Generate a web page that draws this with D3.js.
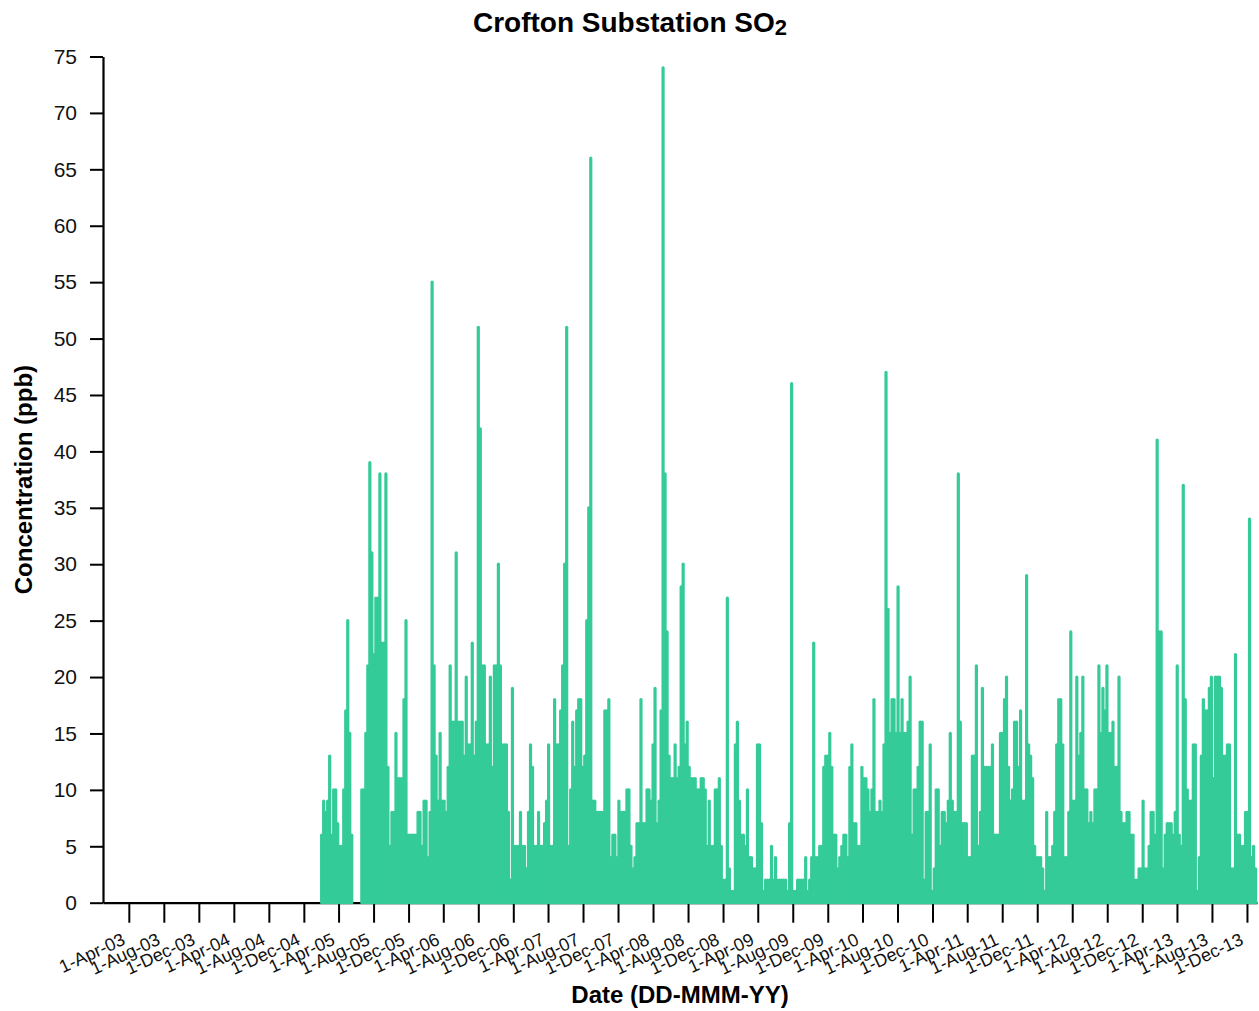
<!DOCTYPE html>
<html><head><meta charset="utf-8">
<script src="https://cdn.jsdelivr.net/npm/d3@7"></script>
<style>
html,body{margin:0;padding:0;background:#fff;}
svg{display:block;font-family:"Liberation Sans",Arial,Helvetica,sans-serif;}
</style></head><body>
<svg id="chart" width="1259" height="1011"></svg>
<script>
// ---- data ----
const xTickLabels = ["1-Apr-03","1-Aug-03","1-Dec-03","1-Apr-04","1-Aug-04","1-Dec-04","1-Apr-05","1-Aug-05","1-Dec-05","1-Apr-06","1-Aug-06","1-Dec-06","1-Apr-07","1-Aug-07","1-Dec-07","1-Apr-08","1-Aug-08","1-Dec-08","1-Apr-09","1-Aug-09","1-Dec-09","1-Apr-10","1-Aug-10","1-Dec-10","1-Apr-11","1-Aug-11","1-Dec-11","1-Apr-12","1-Aug-12","1-Dec-12","1-Apr-13","1-Aug-13","1-Dec-13"];
const yTickValues = [0,5,10,15,20,25,30,35,40,45,50,55,60,65,70,75];
const axisStart = "1-Jan-03";
const axisEnd = "5-Jan-14";
const seriesStart = "1-Feb-05";   // first weekly value; each block = 52 consecutive weeks (peak ppb)
const so2Weeks2005 = [6,9,8,9,13,6,10,10,7,5,5,10,17,25,15,6,null,null,null,null,10,10,15,21,39,31,22,27,27,38,23,23,38,12,5,8,8,15,11,11,11,18,25,6,6,6,6,6,8,8,5,9];
const so2Weeks2006 = [9,4,8,55,21,13,9,15,9,9,8,12,21,16,16,31,16,16,16,13,20,14,14,23,13,16,51,42,21,21,14,14,20,12,21,21,30,21,14,14,14,8,2,19,5,5,5,8,5,5,3,8];
const so2Weeks2007 = [14,12,5,5,8,5,5,7,9,14,5,5,18,14,14,17,21,30,51,5,10,16,12,17,18,18,12,13,25,35,66,9,9,8,8,8,8,17,17,18,4,6,6,4,9,8,8,8,10,10,5,3];
const so2Weeks2008 = [4,7,7,18,7,7,10,10,9,14,19,7,9,17,74,38,24,13,11,11,14,11,12,28,30,14,16,12,11,11,11,10,10,11,11,10,5,9,5,5,10,10,11,5,2,2,27,3,1,1,14,16];
const so2Weeks2009 = [9,6,6,5,10,4,4,3,3,14,14,7,1,2,2,2,5,2,4,2,2,2,2,2,1,7,46,1,1,2,2,2,2,4,1,2,4,23,4,4,5,5,12,13,13,15,12,6,6,3,4,5];
const so2Weeks2010 = [6,6,4,12,14,7,7,5,5,12,11,11,10,8,10,18,8,8,9,8,14,47,26,15,18,18,15,28,15,18,15,15,16,20,6,10,10,12,16,16,2,8,8,14,1,3,10,10,5,8,8,7];
const so2Weeks2011 = [9,15,9,8,8,38,16,7,7,7,4,4,13,13,21,5,8,19,12,12,12,12,14,6,6,6,15,15,18,20,12,9,10,16,16,12,17,9,9,29,14,13,11,5,4,4,4,3,1,8,4,4];
const so2Weeks2012 = [5,8,14,18,18,14,4,4,8,24,9,9,20,13,15,20,10,10,7,8,7,10,10,21,15,19,17,21,15,15,16,12,12,20,8,7,7,8,8,6,6,2,2,3,3,9,3,3,5,8,8,6];
const so2Weeks2013 = [41,24,24,3,6,7,7,7,6,8,21,6,5,37,18,10,9,9,14,14,1,4,13,18,17,17,19,20,11,20,20,20,19,13,13,14,14,3,3,22,6,6,5,5,8,8,34,4,5,3];

// ---- build ----
const parse = d3.timeParse("%-d-%b-%y");
const fmt = d3.timeFormat("%-d-%b-%y");
const values = [].concat(so2Weeks2005, so2Weeks2006, so2Weeks2007, so2Weeks2008, so2Weeks2009, so2Weeks2010, so2Weeks2011, so2Weeks2012, so2Weeks2013);
const start = parse(seriesStart);
const data = values.map((v, i) => ({date: d3.timeDay.offset(start, 7 * i), v: v}));

const color = "#34cb98";
const svg = d3.select("#chart");

const x = d3.scaleTime().domain([parse(axisStart), parse(axisEnd)]).range([103, 1257]);
const y = d3.scaleLinear().domain([0, 75]).range([902.7, 56.5]);

// axes
const gx = svg.append("g")
  .attr("transform", `translate(0,${y(0)})`)
  .call(d3.axisBottom(x).tickValues(xTickLabels.map(parse)).tickFormat(fmt).tickSize(20).tickSizeOuter(0));
gx.attr("font-family", null).attr("font-size", null);
gx.select(".domain").attr("stroke", "#000").attr("stroke-width", 2.2);
gx.selectAll(".tick line").attr("stroke", "#000").attr("stroke-width", 2);
gx.selectAll(".tick text")
  .attr("font-size", 18).attr("fill", "#111")
  .attr("text-anchor", "end").attr("x", 0).attr("y", 0).attr("dy", 0)
  .attr("transform", "translate(-3,41) rotate(-25)");

const gy = svg.append("g")
  .attr("transform", "translate(103,0)")
  .call(d3.axisLeft(y).tickValues(yTickValues).tickSize(13).tickPadding(13).tickSizeOuter(0));
gy.attr("font-family", null).attr("font-size", null);
gy.select(".domain").attr("stroke", "#000").attr("stroke-width", 2.2);
gy.selectAll(".tick line").attr("stroke", "#000").attr("stroke-width", 2);
gy.selectAll(".tick text").attr("font-size", 21).attr("fill", "#111");

// series: each weekly reading drawn as a vertical trace from 0 to its peak
svg.append("g").selectAll("line")
  .data(data.filter(d => d.v != null))
  .join("line")
  .attr("x1", d => x(d.date)).attr("x2", d => x(d.date))
  .attr("y1", y(0)).attr("y2", d => y(d.v))
  .attr("stroke", color).attr("stroke-width", 3.2).attr("stroke-linecap", "round");

// titles
const title = svg.append("text").attr("x", 630).attr("y", 32)
  .attr("text-anchor", "middle").attr("font-weight", "bold").attr("font-size", 28).attr("fill", "#000");
title.append("tspan").text("Crofton Substation SO");
title.append("tspan").attr("font-size", 22).attr("dy", 3).text("2");

svg.append("text").attr("x", 680).attr("y", 1003)
  .attr("text-anchor", "middle").attr("font-weight", "bold").attr("font-size", 24).attr("fill", "#000")
  .text("Date (DD-MMM-YY)");

svg.append("text").attr("transform", "translate(32,479.6) rotate(-90)")
  .attr("text-anchor", "middle").attr("font-weight", "bold").attr("font-size", 24).attr("fill", "#000")
  .text("Concentration (ppb)");
</script>
</body></html>
